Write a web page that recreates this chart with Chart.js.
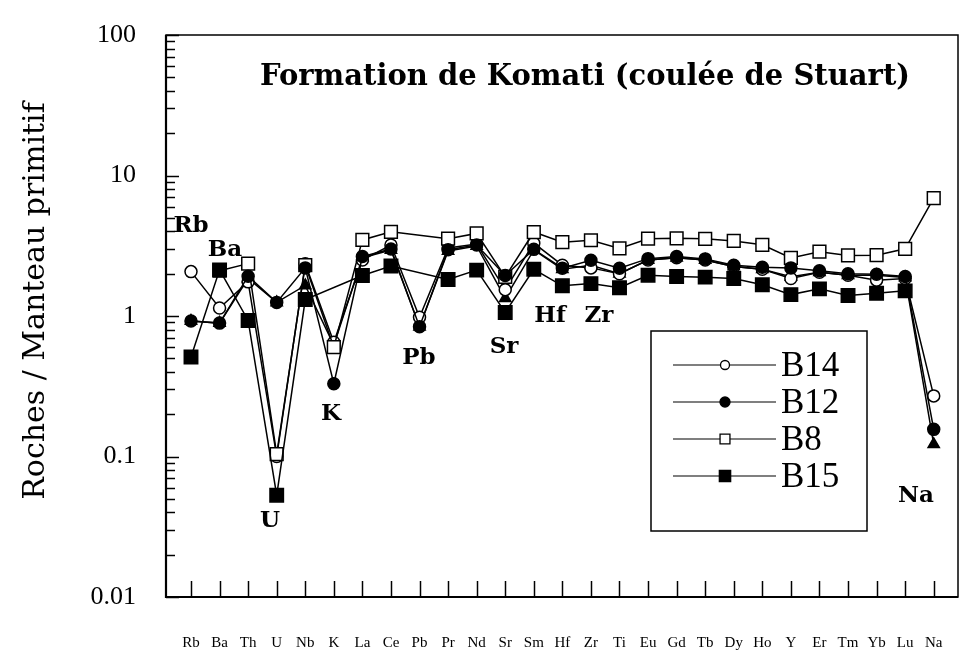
<!DOCTYPE html>
<html>
<head>
<meta charset="utf-8">
<script src="https://cdn.jsdelivr.net/npm/chart.js@4.4.1/dist/chart.umd.min.js"></script>
<style>
  html, body { margin: 0; padding: 0; background: #fff; }
  canvas { display: block; }
</style>
</head>
<body>
<canvas id="spider" width="960" height="660"></canvas>
<script>
// Elements, in the order of the spider diagram
const elements = ['Rb','Ba','Th','U','Nb','K','La','Ce','Pb','Pr','Nd','Sr','Sm','Hf','Zr','Ti','Eu','Gd','Tb','Dy','Ho','Y','Er','Tm','Yb','Lu','Na'];

// Rock / primitive mantle ratios for each sample
const b14 = [2.07, 1.14, 1.75, 0.10, 2.35, 0.65, 2.5, 3.2, 0.98, 3.05, 3.25, 1.54, 3.3, 2.3, 2.2, 2.0, 2.5, 2.6, 2.5, 2.25, 2.15, 1.85, 2.05, 1.95, 1.80, 1.85, 0.27];
const b12 = [0.92, 0.89, 1.92, 1.25, 2.2, 0.33, 2.65, 3.0, 0.84, 2.96, 3.2, 1.94, 2.98, 2.19, 2.49, 2.19, 2.56, 2.65, 2.55, 2.30, 2.22, 2.20, 2.10, 2.00, 1.98, 1.91, 0.156];
const b8  = [null, 2.1, 2.36, 0.104, 2.3, 0.60, 3.48, 3.97, null, 3.55, 3.87, 1.9, 3.96, 3.35, 3.46, 3.03, 3.55, 3.57, 3.54, 3.42, 3.21, 2.59, 2.87, 2.70, 2.71, 3.01, 6.9];
const b15 = [0.51, 2.13, 0.93, 0.053, 1.31, null, 1.94, 2.27, null, 1.82, 2.12, 1.06, 2.15, 1.64, 1.70, 1.59, 1.95, 1.91, 1.89, 1.85, 1.67, 1.42, 1.56, 1.40, 1.45, 1.51, null];
const extra = [0.92, 0.89, 1.85, 1.25, 1.65, 0.62, 2.6, 2.95, 0.84, 2.9, 3.15, 1.34, 2.95, 2.15, 2.3, 2.0, 2.5, 2.6, 2.5, 2.25, 2.15, 1.9, 2.05, 1.95, 1.95, 1.88, 0.122];

// Decade labels of the logarithmic axis
const decades = [100, 10, 1, 0.1, 0.01];
const decadeLabels = ['100', '10', '1', '0.1', '0.01'];

// Element names written next to the anomalies (index along the x axis, ratio)
const notes = [
  { text: 'Rb', i: 0.0,   v: 4.39 },
  { text: 'Ba', i: 1.19,  v: 2.97 },
  { text: 'U',  i: 2.77,  v: 0.035 },
  { text: 'K',  i: 4.9,   v: 0.200 },
  { text: 'Pb', i: 7.98,  v: 0.503 },
  { text: 'Sr', i: 10.96, v: 0.602 },
  { text: 'Hf', i: 12.57, v: 0.997 },
  { text: 'Zr', i: 14.28, v: 1.006 },
  { text: 'Na', i: 25.38, v: 0.0519 }
];

const toPoints = arr => arr.map((v, i) => ({ x: i, y: v }));

const styles = {
  B14:  { pointStyle: 'circle',   radius: 6,   fill: '#fff', order: 3 },
  B12:  { pointStyle: 'circle',   radius: 6,   fill: '#000', order: 1 },
  B8:   { pointStyle: 'rect',     radius: 9,   fill: '#fff', order: 2 },
  B15:  { pointStyle: 'rect',     radius: 9.5, fill: '#000', order: 0 },
  extra:{ pointStyle: 'triangle', radius: 6.5, fill: '#000', order: 4 }
};

function makeSet(label, values, st) {
  return {
    label: label,
    data: toPoints(values),
    borderColor: '#000',
    borderWidth: 1.5,
    pointStyle: st.pointStyle,
    pointRadius: st.radius,
    pointBackgroundColor: st.fill,
    pointBorderColor: '#000',
    pointBorderWidth: 1.5,
    spanGaps: true,
    tension: 0,
    fill: false,
    order: st.order
  };
}

const datasets = [
  makeSet('B14', b14, styles.B14),
  makeSet('B12', b12, styles.B12),
  makeSet('B8', b8, styles.B8),
  makeSet('B15', b15, styles.B15),
  makeSet('', extra, styles.extra)
];

const legendItems = [
  { label: 'B14', st: styles.B14, r: 4.5 },
  { label: 'B12', st: styles.B12, r: 5 },
  { label: 'B8',  st: styles.B8,  r: 7 },
  { label: 'B15', st: styles.B15, r: 8 }
];

const isDecade = v => Math.abs(Math.log10(v) - Math.round(Math.log10(v))) < 1e-9;

// Frame, inward tick marks, axis labels, title, notes and boxed legend
const decorations = {
  id: 'decorations',
  beforeDraw(chart) {
    const ctx = chart.ctx;
    ctx.save();
    ctx.fillStyle = '#fff';
    ctx.fillRect(0, 0, chart.width, chart.height);
    ctx.restore();
  },
  afterDraw(chart) {
    const { ctx, chartArea: a, scales: { x, y } } = chart;
    ctx.save();
    ctx.strokeStyle = '#000';
    ctx.fillStyle = '#000';

    // plot frame
    ctx.lineWidth = 1.5;
    ctx.strokeRect(a.left, a.top, a.right - a.left, a.bottom - a.top);
    ctx.lineWidth = 2.2;
    ctx.beginPath();
    ctx.moveTo(a.left, a.top);
    ctx.lineTo(a.left, a.bottom);
    ctx.lineTo(a.right, a.bottom);
    ctx.stroke();

    // inward ticks on the log axis
    ctx.lineWidth = 1.5;
    y.ticks.forEach(t => {
      const py = Math.round(y.getPixelForValue(t.value)) + 0.5;
      const len = isDecade(t.value) ? 13 : 9;
      ctx.beginPath();
      ctx.moveTo(a.left, py);
      ctx.lineTo(a.left + len, py);
      ctx.stroke();
    });
    // inward ticks on the element axis
    x.ticks.forEach(t => {
      const px = Math.round(x.getPixelForValue(t.value)) + 0.5;
      ctx.beginPath();
      ctx.moveTo(px, a.bottom);
      ctx.lineTo(px, a.bottom - 16);
      ctx.stroke();
    });

    // decade labels
    ctx.textAlign = 'right';
    ctx.textBaseline = 'middle';
    ctx.font = '26px "Liberation Serif"';
    decades.forEach((d, k) => {
      ctx.fillText(decadeLabels[k], 136, y.getPixelForValue(d));
    });

    // element labels under the axis
    ctx.textAlign = 'center';
    ctx.font = '15px "Liberation Serif"';
    x.ticks.forEach(t => {
      ctx.fillText(elements[t.value], x.getPixelForValue(t.value), 643);
    });

    // title
    ctx.font = 'bold 29px "DejaVu Serif"';
    ctx.fillText('Formation de Komati (coulée de Stuart)', 585, 77);

    // y-axis title
    ctx.save();
    ctx.translate(36, 301);
    ctx.rotate(-Math.PI / 2);
    ctx.font = '30px "DejaVu Serif"';
    ctx.fillText('Roches / Manteau primitif', 0, 0);
    ctx.restore();

    // element notes
    ctx.font = 'bold 23px "DejaVu Serif"';
    notes.forEach(n => {
      ctx.fillText(n.text, x.getPixelForValue(n.i), y.getPixelForValue(n.v));
    });

    // legend box
    const lx = 651, ly = 331, lw = 216, lh = 200;
    ctx.lineWidth = 1.5;
    ctx.strokeRect(lx, ly, lw, lh);
    ctx.textAlign = 'left';
    ctx.font = '35px "Liberation Serif"';
    legendItems.forEach((it, k) => {
      const cy = 365 + k * 37;
      ctx.lineWidth = 1.2;
      ctx.beginPath();
      ctx.moveTo(673, cy);
      ctx.lineTo(776, cy);
      ctx.stroke();
      ctx.fillStyle = it.st.fill;
      ctx.lineWidth = 1.3;
      Chart.helpers.drawPoint(ctx, { pointStyle: it.st.pointStyle, radius: it.r, rotation: 0, borderWidth: 1.3 }, 725, cy);
      ctx.fillStyle = '#000';
      ctx.fillText(it.label, 781, cy + 2);
    });
    ctx.restore();
  }
};

new Chart(document.getElementById('spider'), {
  type: 'line',
  data: { datasets: datasets },
  plugins: [decorations],
  options: {
    responsive: false,
    animation: false,
    devicePixelRatio: 1,
    layout: { autoPadding: false, padding: { top: 35, right: 2, left: 0, bottom: 0 } },
    plugins: { legend: { display: false }, tooltip: { enabled: false }, title: { display: false } },
    scales: {
      x: {
        type: 'linear',
        min: -0.875,
        max: 26.85,
        grid: { display: false },
        border: { display: false },
        ticks: { display: false },
        afterBuildTicks: s => { s.ticks = elements.map((_, i) => ({ value: i })); },
        afterFit: s => { s.height = 63; }
      },
      y: {
        type: 'logarithmic',
        min: 0.01,
        max: 100,
        grid: { display: false },
        border: { display: false },
        ticks: { display: false },
        afterBuildTicks: s => {
          const t = [];
          for (let e = -2; e <= 1; e++) {
            for (let m = 1; m <= 9; m++) t.push({ value: m * Math.pow(10, e) });
          }
          t.push({ value: 100 });
          s.ticks = t;
        },
        afterFit: s => { s.width = 166; }
      }
    }
  }
});
</script>
</body>
</html>
